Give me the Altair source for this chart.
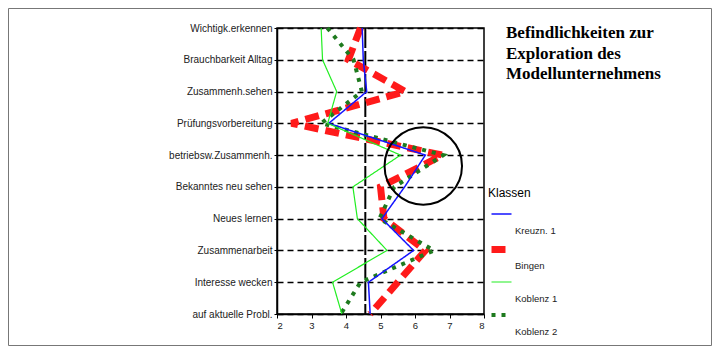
import json
import altair as alt
import pandas as pd

categories = ["Wichtigk.erkennen", "Brauchbarkeit Alltag", "Zusammenh.sehen",
              "Prüfungsvorbereitung", "betriebsw.Zusammenh.", "Bekanntes neu sehen",
              "Neues lernen", "Zusammenarbeit", "Interesse wecken", "auf aktuelle Probl."]
klassen = ["Kreuzn. 1", "Bingen", "Koblenz 1", "Koblenz 2"]
kreuzn_1 = [4.47, 4.50, 4.60, 3.50, 6.30, 5.70, 5.04, 5.96, 4.65, 4.70]
bingen = [4.42, 4.07, 5.72, 2.42, 6.80, 5.00, 5.10, 6.30, 5.50, 4.70]
koblenz_1 = [3.28, 3.32, 3.73, 3.47, 5.58, 4.20, 4.33, 5.19, 3.61, 3.88]
koblenz_2 = [3.46, 4.22, 4.46, 3.28, 6.82, 5.40, 4.97, 6.55, 4.42, 3.85]
x_ticks = [2, 3, 4, 5, 6, 7, 8]
mean_line = [4.56]
circle_x = [6.24]
circle_row = [4.34]
title_lines = ["Befindlichkeiten zur", "Exploration des", "Modellunternehmens"]

colors = ["#1414ff", "#ff1a1a", "#22ee22", "#1e7a1e"]
dashes = [[1, 0], [14, 7], [1, 0], [4, 6]]
widths = [1.5, 7, 1.2, 4]

rows = []
for name, vals in zip(klassen, [kreuzn_1, bingen, koblenz_1, koblenz_2]):
    for i, v in enumerate(vals):
        rows.append({"Klasse": name, "idx": i, "Kategorie": categories[i], "Wert": v})
df = pd.DataFrame(rows)

label_expr = json.dumps(categories) + "[datum.value]"

x_axis = alt.Axis(values=x_ticks, title=None, grid=False, tickSize=4,
                  labelPadding=2, labelFontSize=9.5)
y_axis = alt.Axis(values=list(range(10)), labelExpr=label_expr, title=None,
                  grid=True, gridDash=[6, 4], gridColor="black", gridWidth=1.5,
                  tickSize=3, labelPadding=2, labelFontSize=10, labelOverlap=False)
x_scale = alt.Scale(domain=[2, 8], nice=False, zero=False)
y_scale = alt.Scale(domain=[0, 9], reverse=True, nice=False, zero=False)

x_enc = alt.X("Wert:Q", scale=x_scale, axis=x_axis)
y_enc = alt.Y("idx:Q", scale=y_scale, axis=y_axis)

legend = alt.Legend(title="Klassen", orient="none", legendX=211, legendY=160,
                    symbolType="stroke", symbolSize=400, labelExpr="['', datum.label]",
                    labelBaseline="top", labelOffset=0,
                    rowPadding=0, titleFontSize=12, titleFontWeight="normal",
                    titlePadding=3, labelFontSize=9.5)

color = alt.Color("Klasse:N", scale=alt.Scale(domain=klassen, range=colors), legend=legend)
sdash = alt.StrokeDash("Klasse:N", scale=alt.Scale(type="ordinal", domain=klassen, range=dashes),
                       legend=legend)
swidth = alt.StrokeWidth("Klasse:N", scale=alt.Scale(type="ordinal", domain=klassen, range=widths),
                         legend=legend)

base = alt.Chart(df).mark_line().encode(x=x_enc, y=y_enc, color=color,
                                          strokeDash=sdash, strokeWidth=swidth,
                                          order="idx:Q")
series_layers = [base.transform_filter(alt.datum.Klasse == k)
                 for k in ["Bingen", "Koblenz 2", "Kreuzn. 1", "Koblenz 1"]]

rule = alt.Chart(pd.DataFrame({"Wert": mean_line})).mark_rule(
    color="black", strokeWidth=2, strokeDash=[20, 3]).encode(x=x_enc)

circle = alt.Chart(pd.DataFrame({"Wert": circle_x, "idx": circle_row})).mark_point(
    shape="circle", size=6000, filled=False, stroke="black", strokeWidth=2, opacity=1
).encode(x=x_enc, y=y_enc)

title = alt.Chart(pd.DataFrame({"t": ["\n".join(title_lines)]})).mark_text(
    lineBreak="\n", align="left", baseline="top", font="Liberation Serif",
    fontSize=17, fontWeight="bold", lineHeight=20.5, color="black"
).encode(text="t:N", x=alt.value(229), y=alt.value(-3))

frame = alt.Chart(pd.DataFrame({"a": [0]})).mark_rect(
    fillOpacity=0, stroke="#777777", strokeWidth=1
).encode(x=alt.value(-268.5), x2=alt.value(434.5), y=alt.value(-19.5), y2=alt.value(317.5))

chart = alt.layer(frame, rule, *series_layers, circle, title).properties(
    width=207, height=286,
    autosize=alt.AutoSizeParams(type="none"),
    padding={"left": 269, "top": 20, "right": 228, "bottom": 33},
).configure_view(stroke="black", strokeWidth=1.5).configure_axis(
    domainColor="black", tickColor="black", labelColor="#222222",
    labelFont="Liberation Sans", domainWidth=1.5
).configure_legend(labelFont="Liberation Sans", titleFont="Liberation Sans",
                   titleColor="black", labelColor="#222222")

chart.save("out.html", embed_options={"renderer": "svg", "actions": False})
